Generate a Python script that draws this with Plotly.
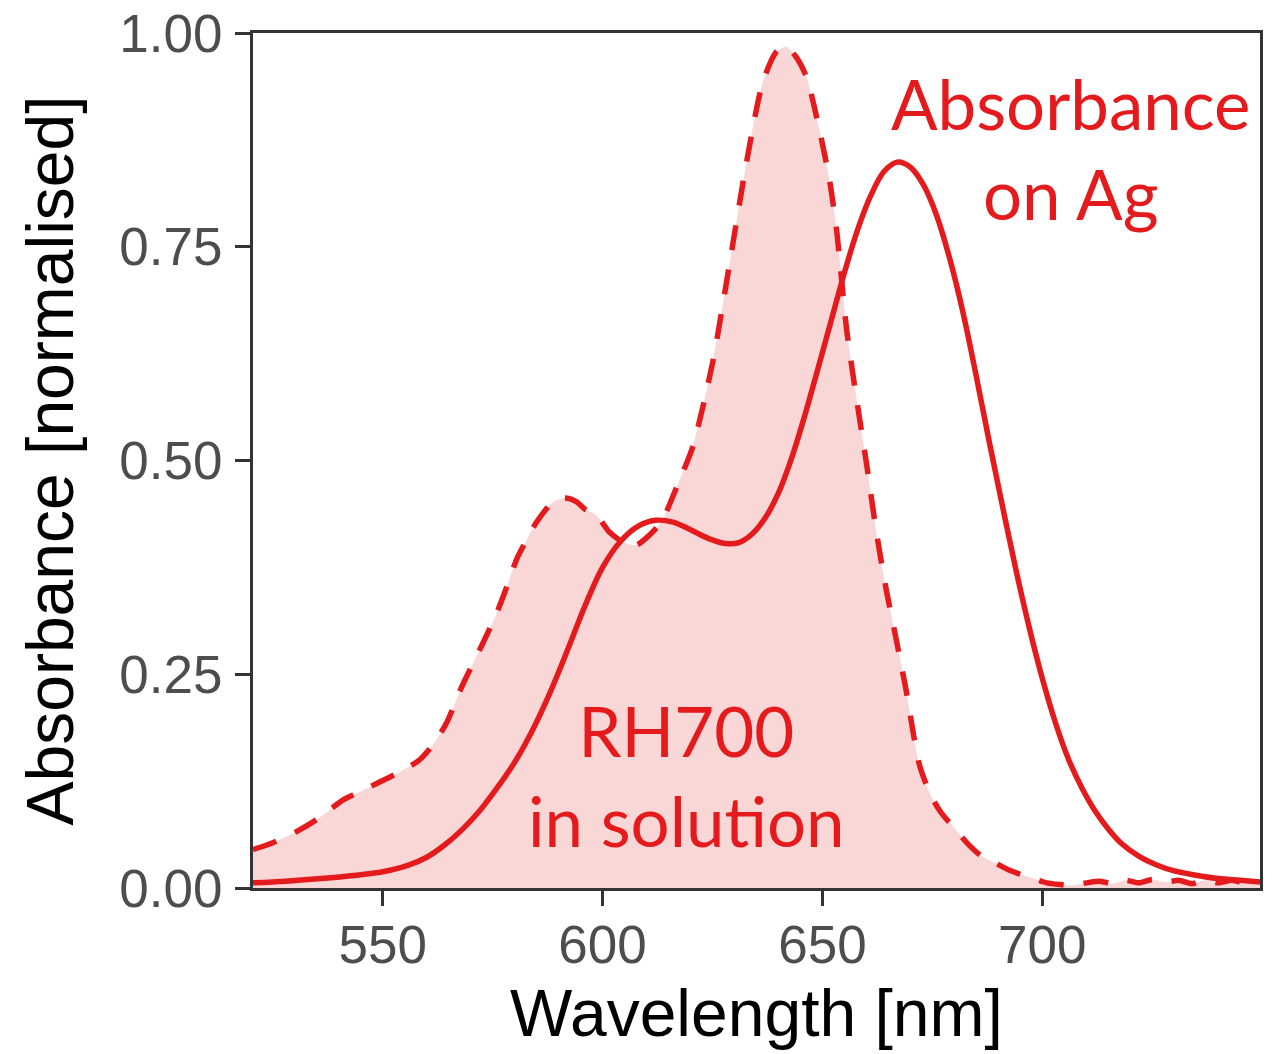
import plotly.graph_objects as go

# Absorbance on Ag (solid line)
ag_wavelength = [520.5, 528, 536, 544, 550, 556, 560, 564, 568, 572, 576, 580, 584, 588, 592, 596,
                 600, 604, 608, 612, 616, 620, 624, 628, 631, 634, 637, 640, 643, 646, 649, 652,
                 655, 658, 661, 664, 667, 670, 673, 676, 679, 682, 685, 688, 691, 694, 697, 700,
                 703, 706, 709, 712, 715, 718, 722, 726, 730, 735, 740, 745, 749.5]
ag_absorbance = [0.006, 0.008, 0.011, 0.015, 0.019, 0.027, 0.036, 0.050, 0.068, 0.090, 0.117, 0.147,
                 0.184, 0.228, 0.278, 0.330, 0.375, 0.405, 0.423, 0.430, 0.428, 0.419, 0.409, 0.403,
                 0.404, 0.414, 0.433, 0.462, 0.503, 0.553, 0.608, 0.664, 0.720, 0.770, 0.810, 0.838,
                 0.849, 0.843, 0.822, 0.786, 0.735, 0.672, 0.598, 0.520, 0.445, 0.372, 0.305, 0.245,
                 0.193, 0.150, 0.117, 0.090, 0.069, 0.052, 0.037, 0.027, 0.020, 0.015, 0.011, 0.009,
                 0.007]

# RH700 in solution (dashed line, filled)
sol_wavelength = [520.5, 525, 530.4, 535, 541, 545, 549.3, 554, 558.4, 561.5, 564.5, 568.2,
                  572, 575.8, 578.2, 580.5, 582.7, 585, 588.6, 591.4, 594, 596, 598.6, 601.6, 604.5,
                  607.6, 610.5, 613.6, 615.5, 617.5, 620.5, 625, 628.9, 632.7, 636.4, 639.5, 641.8,
                  644, 646.4, 649.3, 651.6, 653.2, 655.5, 657.7, 660, 662.3, 664.5, 666.8, 669, 672,
                  674.5, 677, 680, 683, 686, 689, 692, 695, 698, 701, 704, 707, 710, 713, 716, 719,
                  722, 725, 728, 731, 734, 737, 740, 743, 746, 749.5]
sol_absorbance = [0.045, 0.053, 0.066, 0.080, 0.103, 0.113, 0.124, 0.136, 0.150, 0.168, 0.193,
                  0.238, 0.278, 0.320, 0.352, 0.385, 0.407, 0.428, 0.451, 0.456, 0.452, 0.443, 0.436,
                  0.416, 0.405, 0.401, 0.412, 0.430, 0.452, 0.477, 0.516, 0.614, 0.731, 0.848, 0.942,
                  0.978, 0.984, 0.972, 0.948, 0.887, 0.828, 0.770, 0.653, 0.574, 0.497, 0.415, 0.349,
                  0.290, 0.232, 0.145, 0.110, 0.088, 0.070, 0.052, 0.038, 0.030, 0.022, 0.016, 0.011,
                  0.006, 0.004, 0.003, 0.006, 0.008, 0.005, 0.009, 0.006, 0.010, 0.007, 0.009, 0.005,
                  0.009, 0.006, 0.009, 0.006, 0.007]

x_ticks = [550, 600, 650, 700]
y_ticks = [0.0, 0.25, 0.5, 0.75, 1.0]
y_tick_labels = ["0.00", "0.25", "0.50", "0.75", "1.00"]

RED = "#E41A1C"
FILL = "rgba(228,26,28,0.175)"
AXIS = "#333333"

fig = go.Figure()
fig.add_trace(go.Scatter(x=sol_wavelength, y=sol_absorbance, mode="lines", fill="tozeroy",
                         fillcolor=FILL, line=dict(color="rgba(0,0,0,0)", width=0, shape="spline",
                                                   smoothing=0.7),
                         hoverinfo="skip", showlegend=False))
fig.add_trace(go.Scatter(x=sol_wavelength, y=sol_absorbance, mode="lines",
                         line=dict(color=RED, width=5.5, dash="25px,20px", shape="spline",
                                   smoothing=0.7),
                         name="RH700 in solution", showlegend=False))
fig.add_trace(go.Scatter(x=ag_wavelength, y=ag_absorbance, mode="lines",
                         line=dict(color=RED, width=5.5, shape="spline"),
                         name="Absorbance on Ag", showlegend=False))

fig.add_annotation(x=706.5, y=0.865, xref="x", yref="y", text="Absorbance<br>on Ag",
                   showarrow=False, font=dict(family="Lato", size=69, color=RED),
                   align="center", xanchor="center", yanchor="middle")
fig.add_annotation(x=619.1, y=0.1316, xref="x", yref="y", text="RH700<br>in solution",
                   showarrow=False, font=dict(family="Lato", size=69, color=RED),
                   align="center", xanchor="center", yanchor="middle")

tickfont = dict(family="Liberation Sans, Arial, sans-serif", size=53, color="#4D4D4D")
titlefont = dict(family="Liberation Sans, Arial, sans-serif", size=66, color="black")

fig.update_layout(
    width=1278, height=1054,
    margin=dict(l=253, r=18, t=33, b=166, autoexpand=False),
    paper_bgcolor="white", plot_bgcolor="white",
    xaxis=dict(range=[520.5, 749.5], tickvals=x_ticks, ticks="outside", ticklen=15,
               tickwidth=3, tickcolor=AXIS, showline=True, linecolor=AXIS, linewidth=3,
               mirror=True, showgrid=False, zeroline=False, tickfont=tickfont,
               ticklabelstandoff=-7, ticklabeloverflow="allow",
               title=dict(text="Wavelength [nm]", font=titlefont, standoff=18),
               automargin=False),
    yaxis=dict(range=[0, 1], tickvals=y_ticks, ticktext=y_tick_labels, ticks="outside",
               ticklen=15, tickwidth=3, tickcolor=AXIS, showline=True, linecolor=AXIS,
               linewidth=3, mirror=True, showgrid=False, zeroline=False, tickfont=tickfont,
               ticklabelstandoff=2, ticklabeloverflow="allow",
               title=dict(text="Absorbance [normalised]", font=titlefont, standoff=25),
               automargin=False),
)

fig.write_html("out.html", config={"displayModeBar": False},
               post_script="document.body.style.margin='0';")
